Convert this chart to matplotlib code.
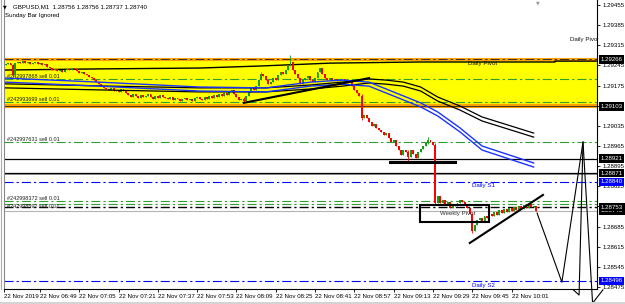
import matplotlib
matplotlib.use("Agg")
import matplotlib.pyplot as plt
from matplotlib.patches import Rectangle
import matplotlib.transforms as mtransforms

plt.rcParams['font.family'] = ['Liberation Sans', 'DejaVu Sans']
plt.rcParams['lines.scale_dashes'] = False

# ---------------- data ----------------
header_text = "GBPUSD,M1  1.28756 1.28756 1.28737 1.28740"
sub_header = "Sunday Bar Ignored"

first_open = 1.29247
closes = [
    1.29250, 1.29253, 1.29247, 1.29212, 1.29253, 1.29257, 1.29253, 1.29260, 1.29253, 1.29257, 1.29250,
    1.29253, 1.29257, 1.29250, 1.29253, 1.29247, 1.29250, 1.29240,
    1.29236, 1.29229, 1.29233, 1.29225, 1.29229, 1.29222, 1.29229, 1.29233,
    1.29229, 1.29236, 1.29233, 1.29225, 1.29219, 1.29222, 1.29215,
    1.29212, 1.29205, 1.29201, 1.29194, 1.29187, 1.29181, 1.29174, 1.29167,
    1.29163, 1.29160, 1.29167, 1.29156, 1.29160, 1.29153, 1.29163, 1.29156,
    1.29149, 1.29142, 1.29135, 1.29146, 1.29139, 1.29132, 1.29142, 1.29135,
    1.29139, 1.29146, 1.29135, 1.29128, 1.29139, 1.29132, 1.29142, 1.29135,
    1.29132, 1.29128, 1.29135, 1.29125, 1.29132, 1.29128, 1.29121, 1.29128,
    1.29132, 1.29125, 1.29128, 1.29121, 1.29132, 1.29135, 1.29128, 1.29125,
    1.29135, 1.29128, 1.29139, 1.29132, 1.29142, 1.29135, 1.29146, 1.29139,
    1.29149, 1.29142, 1.29153, 1.29160, 1.29146, 1.29135, 1.29125, 1.29128,
    1.29121, 1.29139, 1.29153, 1.29167, 1.29160, 1.29174, 1.29194, 1.29215,
    1.29208, 1.29194, 1.29181, 1.29187, 1.29201, 1.29194, 1.29212, 1.29222,
    1.29215, 1.29229, 1.29243, 1.29257,
    1.29229, 1.29215, 1.29201, 1.29181, 1.29194, 1.29201, 1.29208, 1.29194,
    1.29187, 1.29201, 1.29222, 1.29236, 1.29215, 1.29201, 1.29194, 1.29201,
    1.29194, 1.29198, 1.29191, 1.29194, 1.29198, 1.29191, 1.29194, 1.29187,
    1.29174, 1.29160, 1.29149, 1.29139, 1.29062,
    1.29073, 1.29062, 1.29048, 1.29035, 1.29042, 1.29028, 1.29021,
    1.29014, 1.29003, 1.29010, 1.28993, 1.28979, 1.28986, 1.28965, 1.28951,
    1.28934, 1.28951, 1.28944, 1.28927, 1.28951, 1.28937, 1.28923, 1.28944,
    1.28955, 1.28965, 1.28975, 1.28986, 1.28979, 1.28969,
    1.28767,
    1.28791, 1.28767, 1.28777, 1.28760, 1.28771, 1.28750, 1.28764, 1.28757,
    1.28767, 1.28777, 1.28771, 1.28760, 1.28750, 1.28729,
    1.28670,
    1.28691, 1.28708, 1.28715, 1.28704, 1.28722, 1.28715, 1.28729,
    1.28722, 1.28736, 1.28725, 1.28743, 1.28732, 1.28746, 1.28736, 1.28750, 1.28739,
    1.28753, 1.28743, 1.28757, 1.28746, 1.28760, 1.28750, 1.28764, 1.28753, 1.28756, 1.28740,
]
wick_bar = [3, 97, 104, 116, 145, 164, 172, 175, 190]
wick_high = [1.29250, 1.29135, 1.29222, 1.29281, 1.29146, 1.28951, 1.28997, 1.28975, 1.28732]
wick_low = [1.29205, 1.29115, 1.29194, 1.29243, 1.29055, 1.28909, 1.28972, 1.28760, 1.28663]

ma_bars = [0, 38, 79, 106, 124, 137, 148, 155, 162, 169, 176, 185, 194, 215]
blue_ma_a = [1.29201, 1.29187, 1.29170, 1.29167, 1.29187, 1.29194, 1.29187, 1.29163, 1.29139, 1.29115, 1.29083, 1.29028, 1.28965, 1.28906]
blue_ma_b = [1.29187, 1.29173, 1.29156, 1.29153, 1.29173, 1.29180, 1.29173, 1.29149, 1.29125, 1.29101, 1.29069, 1.29014, 1.28951, 1.28892]
black_ma_a = [1.29181, 1.29174, 1.29167, 1.29167, 1.29177, 1.29187, 1.29198, 1.29194, 1.29187, 1.29170, 1.29135, 1.29104, 1.29066, 1.29010]
black_ma_b = [1.29167, 1.29160, 1.29153, 1.29153, 1.29163, 1.29173, 1.29184, 1.29180, 1.29173, 1.29156, 1.29121, 1.29090, 1.29052, 1.28996]

pivot_line_bars = [-0.65, 38.4, 79.2, 103.6, 132.1, 168.7, 223.7, 223.7, 240.8]
pivot_line_prices = [1.29229, 1.29233, 1.29236, 1.29243, 1.29253, 1.29257, 1.29257, 1.29260, 1.29260]

zone_top = 1.29266
zone_bottom = 1.29103
order_levels = [1.29198, 1.29118, 1.28979, 1.28775, 1.28765]
order_labels = ["#242997868 sell 0.01", "#242993699 sell 0.01", "#242997631 sell 0.01",
                "#242998372 sell 0.01", "#242998592 sell 0.01"]
black_levels = [1.28921, 1.28871]
daily_s1 = 1.28840
daily_s2 = 1.28496
weekly_pivot = 1.28753
bid_price = 1.28740

trend1_bars = [97, 148]
trend1_prices = [1.29115, 1.29201]
trend2_bars = [189, 218.8]
trend2_prices = [1.28628, 1.28795]
support_bars = [156.5, 183]
support_prices = [1.28909, 1.28909]
box_bars = [168.7, 196.8]
box_prices = [1.28701, 1.28760]
sketch_a_bars = [216.4, 226.5, 235.1, 239.0, 243.2]
sketch_a_prices = [1.28732, 1.28492, 1.28979, 1.28419, 1.28465]
sketch_b_bars = [235.1, 233.5, 231.2]
sketch_b_prices = [1.28979, 1.28447, 1.28465]

ytick_prices = [1.29455, 1.29385, 1.29315, 1.29245, 1.29175, 1.29105, 1.29035, 1.28965,
                1.28895, 1.28825, 1.28755, 1.28685, 1.28615, 1.28545, 1.28475]
xtick_bars = [-0.6, 14, 30, 46, 62, 78, 94, 110, 126, 142, 158, 174, 190, 206]
xtick_labels = ["22 Nov 2019", "22 Nov 06:49", "22 Nov 07:05", "22 Nov 07:21", "22 Nov 07:37",
                "22 Nov 07:53", "22 Nov 08:09", "22 Nov 08:25", "22 Nov 08:41", "22 Nov 08:57",
                "22 Nov 09:13", "22 Nov 09:29", "22 Nov 09:45", "22 Nov 10:01"]

price_boxes = [1.29266, 1.29103, 1.28921, 1.28871, 1.28840, 1.28740, 1.28753, 1.28496]
price_box_colors = ['black', 'black', 'black', 'black', '#0000ff', 'black', 'black', '#0000ff']

# ---------------- figure ----------------
W, H = 625, 304
fig = plt.figure(figsize=(W / 100, H / 100), dpi=100)
fig.patch.set_facecolor('white')
ax = fig.add_axes([4 / W, 15 / H, 593 / W, 289 / H])
ax.set_facecolor('white')
ax.set_xlim(-0.65, 240.8)
ax.set_ylim(1.284681, 1.294724)

def F(x, y):
    return x / W, 1 - y / H

yt = ax.get_yaxis_transform()
FS = 4.4
GREEN = '#2e9e2e'
dashdot = (0, (6.5, 2.2, 1.6, 2.2))

# zone
ax.axhspan(zone_bottom, zone_top, color='#ffff00', zorder=0, lw=0)
ax.axhline(zone_top, color='#ffa200', lw=2.2, zorder=1)
ax.axhline(zone_top, color='#333333', lw=0.7, ls=dashdot, zorder=1.1)
ax.axhline(zone_bottom, color='#ffa200', lw=3.0, zorder=1)
ax.axhline(zone_bottom, color='#222222', lw=0.6, zorder=1.1)

label_va = ['bottom', 'bottom', 'bottom', 'bottom', 'top']
for lvl, lab, va in zip(order_levels, order_labels, label_va):
    ax.axhline(lvl, color=GREEN, lw=0.8, ls=dashdot, zorder=1.2)
    ax.text(0.005, lvl, lab, transform=yt, fontsize=4.0, color='#222222',
            va=va, ha='left', zorder=1.3)

for lvl in black_levels:
    ax.axhline(lvl, color='black', lw=0.9, zorder=1.2)
ax.axhline(black_levels[1] - 0.00004, color='#9a9a9a', lw=0.7, zorder=1.1)
ax.axhline(daily_s1, color='#0000ff', lw=0.8, ls=dashdot, zorder=1.2)
ax.axhline(daily_s2, color='#0000ff', lw=0.8, ls=dashdot, zorder=1.2)
ax.axhline(weekly_pivot, color='black', lw=1.0, ls=dashdot, zorder=1.2)
ax.axhline(bid_price, color='#b4b4b4', lw=0.8, zorder=1.2)

# pivot step line
ax.plot(pivot_line_bars, pivot_line_prices, color='black', lw=1.0, zorder=2)

# candles
opens = [first_open] + closes[:-1]
highs = [max(o, c) for o, c in zip(opens, closes)]
lows = [min(o, c) for o, c in zip(opens, closes)]
for b, h, l in zip(wick_bar, wick_high, wick_low):
    highs[b] = h
    lows[b] = l
for i, (o, c, h, l) in enumerate(zip(opens, closes, highs, lows)):
    col = '#10a010' if c >= o else '#ff0000'
    ax.vlines(i, l, h, color=col, lw=0.6, zorder=3)
    if abs(c - o) < 1e-7:
        ax.hlines(c, i - 0.4, i + 0.4, color=col, lw=0.6, zorder=3)
    else:
        ax.add_patch(Rectangle((i - 0.4, min(o, c)), 0.8, abs(c - o),
                               facecolor=col, edgecolor='none', zorder=3))

# moving averages
ax.plot(ma_bars, black_ma_a, color='black', lw=0.9, zorder=4)
ax.plot(ma_bars, black_ma_b, color='black', lw=0.9, zorder=4)
ax.plot(ma_bars, blue_ma_a, color='#1a33ff', lw=1.0, zorder=4)
ax.plot(ma_bars, blue_ma_b, color='#1a33ff', lw=1.0, zorder=4)

# drawings
ax.plot(trend1_bars, trend1_prices, color='black', lw=1.5, zorder=5)
ax.plot(trend2_bars, trend2_prices, color='black', lw=1.5, zorder=5)
ax.plot(support_bars, support_prices, color='black', lw=2.2, zorder=5)
ax.add_patch(Rectangle((box_bars[0], box_prices[0]), box_bars[1] - box_bars[0],
                       box_prices[1] - box_prices[0], fill=False, edgecolor='black',
                       lw=1.5, zorder=5))
ax.plot(sketch_a_bars, sketch_a_prices, color='black', lw=0.8, zorder=6, clip_on=False)
ax.plot(sketch_b_bars, sketch_b_prices, color='black', lw=0.8, zorder=6, clip_on=False)

# chart texts
ax.text(*F(468, 63), "Daily Pivot", transform=fig.transFigure, fontsize=FS,
        color='#111111', va='center', ha='left', zorder=6)
ax.text(*F(570, 39), "Daily Pivot", transform=fig.transFigure, fontsize=FS,
        color='#111111', va='center', ha='left', zorder=6, clip_on=True)
ax.text(*F(472, 186), "Daily S1", transform=fig.transFigure, fontsize=FS,
        color='#0000ff', va='center', ha='left', zorder=6)
ax.text(*F(472, 286), "Daily S2", transform=fig.transFigure, fontsize=FS,
        color='#0000ff', va='center', ha='left', zorder=6)
ax.text(*F(440, 213), "Weekly Pivot", transform=fig.transFigure, fontsize=FS,
        color='#333333', va='center', ha='left', zorder=6)

# axes styling
ax.spines['top'].set_visible(False)
ax.spines['left'].set_color('#888888')
ax.spines['right'].set_color('black')
ax.spines['bottom'].set_color('black')
for s in ['left', 'right', 'bottom']:
    ax.spines[s].set_linewidth(0.8)

ax.yaxis.tick_right()
ax.set_yticks(ytick_prices)
ax.set_yticklabels(["%.5f" % p for p in ytick_prices])
ax.tick_params(axis='y', right=True, left=False, length=2.5, width=0.6, pad=1.2,
               labelsize=FS, colors='black')
ax.set_xticks(xtick_bars)
ax.set_xticklabels(xtick_labels, ha='left')
ax.tick_params(axis='x', length=2.5, width=0.6, pad=1.0, labelsize=FS, colors='black')

# price boxes on the right scale
for p, c in zip(price_boxes, price_box_colors):
    ax.text(1.006, p, "%.5f" % p, transform=yt, fontsize=FS, color='white',
            va='center', ha='left', zorder=10, clip_on=False,
            bbox=dict(boxstyle='square,pad=0.28', fc=c, ec='none'))

# header
fig.text(*F(2.5, 6.5), "\u25BC", fontsize=3.5, color='black', va='center', ha='left',
         family=['DejaVu Sans'])
fig.text(*F(13, 7), header_text, fontsize=FS, color='black', va='center', ha='left')
fig.text(*F(5, 15.5), sub_header, fontsize=FS, color='black', va='center', ha='left')
fig.text(*F(535.5, 3), "\u25BC", fontsize=3.5, color='#999999', va='center', ha='left',
         family=['DejaVu Sans'])

# left border and bottom strip
fig.add_artist(plt.Line2D([1.5 / W, 1.5 / W], [15 / H, 1], color='#aaaaaa', lw=0.8))
fig.add_artist(Rectangle((0, 0), 1, 2.5 / H, transform=fig.transFigure,
                         facecolor='#d4d4d4', edgecolor='none'))

fig.savefig("out.png", dpi=100)
